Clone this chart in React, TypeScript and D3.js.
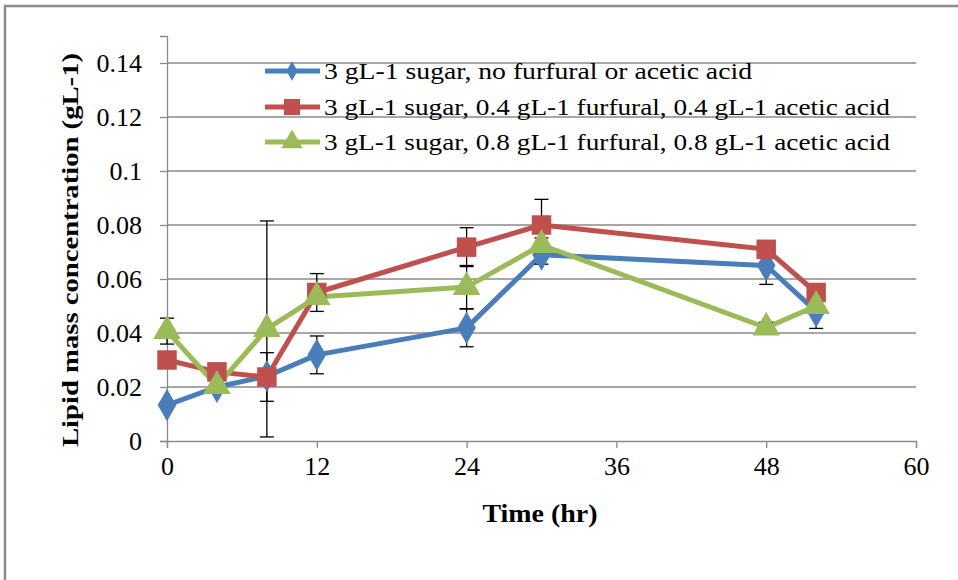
import React, { useEffect, useRef } from 'react';
import * as d3 from 'd3';

// sampling times (hr)
const times = [0, 4, 8, 12, 24, 30, 48, 52];

const seriesNames = [
  '3 gL-1 sugar, no furfural or acetic acid',
  '3 gL-1 sugar, 0.4 gL-1 furfural, 0.4 gL-1 acetic acid',
  '3 gL-1 sugar, 0.8 gL-1 furfural, 0.8 gL-1 acetic acid',
];

const noFurfural = [0.0133, 0.0200, 0.0240, 0.0319, 0.0419, 0.0690, 0.0650, 0.0480];
const furfural04 = [0.0300, 0.0256, 0.0237, 0.0550, 0.0718, 0.0800, 0.0710, 0.0550];
const furfural08 = [0.0407, 0.0204, 0.0415, 0.0533, 0.0570, 0.0726, 0.0420, 0.0500];

// standard deviations (0 = no bar shown)
const noFurfuralErr = [0, 0, 0, 0.007, 0.007, 0.0035, 0.007, 0.0063];
const furfural04Err = [0, 0, 0.009, 0.007, 0.0072, 0.0095, 0, 0];
const furfural08Err = [0.0048, 0, 0.040, 0, 0.008, 0.0026, 0.002, 0];

const colors = ['#4a7ebb', '#c0504d', '#9bbb59'];
const symbols = [d3.symbolDiamond, d3.symbolSquare, d3.symbolTriangle];

const xTicks = [0, 12, 24, 36, 48, 60];
const yTicks = [0, 0.02, 0.04, 0.06, 0.08, 0.1, 0.12, 0.14];

export default function App() {
  const svgRef = useRef<SVGSVGElement>(null);
  const W = 958;
  const H = 580;
  const left = 167, right = 916, top = 36, bottom = 441;

  useEffect(() => {
    const svg = d3.select(svgRef.current);
    svg.selectAll('*').remove();

    const x = d3.scaleLinear().domain([0, 60]).range([left, right]);
    const y = d3.scaleLinear().domain([0, 0.15]).range([bottom, top]);
    const font = '"Liberation Serif", serif';

    // outer frame (top and left edges visible)
    svg.append('path')
      .attr('d', `M5,${H} L5,6 L${W},6`)
      .attr('fill', 'none')
      .attr('stroke', '#8c8c8c')
      .attr('stroke-width', 2.5);

    // gridlines
    svg.append('g')
      .selectAll('line')
      .data(yTicks.filter(d => d > 0))
      .join('line')
      .attr('x1', left).attr('x2', right)
      .attr('y1', d => y(d)).attr('y2', d => y(d))
      .attr('stroke', '#8a8a8a')
      .attr('stroke-width', 1.3);

    // y axis
    const yAxis = svg.append('g')
      .attr('transform', `translate(${left},0)`)
      .call(d3.axisLeft(y).tickValues(yTicks).tickSize(7).tickPadding(18)
        .tickFormat(d => d3.format('')(+d)));
    // x axis
    const xAxis = svg.append('g')
      .attr('transform', `translate(0,${bottom})`)
      .call(d3.axisBottom(x).tickValues(xTicks).tickSize(7).tickPadding(9));

    [yAxis, xAxis].forEach(a => {
      a.select('.domain').attr('stroke', '#8a8a8a').attr('stroke-width', 1.3);
      a.selectAll('.tick line').attr('stroke', '#8a8a8a').attr('stroke-width', 1.3);
      a.selectAll('.tick text')
        .attr('font-family', font)
        .attr('font-size', 26)
        .attr('fill', '#000');
    });
    yAxis.selectAll('.tick text').attr('dy', '0.34em');

    // axis titles
    svg.append('text')
      .attr('x', 540).attr('y', 522)
      .attr('text-anchor', 'middle')
      .attr('font-family', font)
      .attr('font-weight', 'bold')
      .attr('font-size', 26)
      .attr('textLength', 115)
      .attr('lengthAdjust', 'spacingAndGlyphs')
      .text('Time (hr)');

    svg.append('text')
      .attr('transform', 'translate(78,250) rotate(-90)')
      .attr('text-anchor', 'middle')
      .attr('font-family', font)
      .attr('font-weight', 'bold')
      .attr('font-size', 23)
      .attr('textLength', 394)
      .attr('lengthAdjust', 'spacingAndGlyphs')
      .text('Lipid mass concentration (gL-1)');

    const allValues = [noFurfural, furfural04, furfural08];
    const allErrs = [noFurfuralErr, furfural04Err, furfural08Err];

    const line = d3.line<number>()
      .x((d, i) => x(times[i]))
      .y(d => y(d));

    // lines
    allValues.forEach((vals, s) => {
      svg.append('path')
        .datum(vals)
        .attr('fill', 'none')
        .attr('stroke', colors[s])
        .attr('stroke-width', 5)
        .attr('stroke-linejoin', 'round')
        .attr('d', line);
    });

    // error bars
    const eb = svg.append('g').attr('stroke', '#000').attr('stroke-width', 1.3);
    allValues.forEach((vals, s) => {
      vals.forEach((v, i) => {
        const e = allErrs[s][i];
        if (!e) return;
        const cx = x(times[i]);
        eb.append('line').attr('x1', cx).attr('x2', cx).attr('y1', y(v + e)).attr('y2', y(v - e));
        [v + e, v - e].forEach(c => {
          eb.append('line').attr('x1', cx - 7).attr('x2', cx + 7).attr('y1', y(c)).attr('y2', y(c));
        });
      });
    });

    // markers
    const sizes = [300, 380, 330];
    allValues.forEach((vals, s) => {
      svg.append('g')
        .selectAll('path')
        .data(vals)
        .join('path')
        .attr('transform', (d, i) => `translate(${x(times[i])},${y(d)})`)
        .attr('d', d3.symbol().type(symbols[s]).size(sizes[s])())
        .attr('fill', colors[s]);
    });

    // legend
    const legendRows = [71, 107, 142];
    const legendWidths = [428, 566, 566];
    const legendSizes = [110, 260, 200];
    seriesNames.forEach((name, s) => {
      const g = svg.append('g').attr('transform', `translate(265,${legendRows[s]})`);
      g.append('line')
        .attr('x1', 0).attr('x2', 55).attr('y1', 0).attr('y2', 0)
        .attr('stroke', colors[s]).attr('stroke-width', 5);
      g.append('path')
        .attr('transform', 'translate(27,0)')
        .attr('d', d3.symbol().type(symbols[s]).size(legendSizes[s])())
        .attr('fill', colors[s]);
      g.append('text')
        .attr('x', 59).attr('y', 0).attr('dy', '0.34em')
        .attr('font-family', font)
        .attr('font-size', 24)
        .attr('textLength', legendWidths[s])
        .attr('lengthAdjust', 'spacingAndGlyphs')
        .text(name);
    });
  }, []);

  return (
    <svg
      ref={svgRef}
      width={W}
      height={H}
      style={{ position: 'fixed', left: 0, top: 0, background: '#fff' }}
    />
  );
}
